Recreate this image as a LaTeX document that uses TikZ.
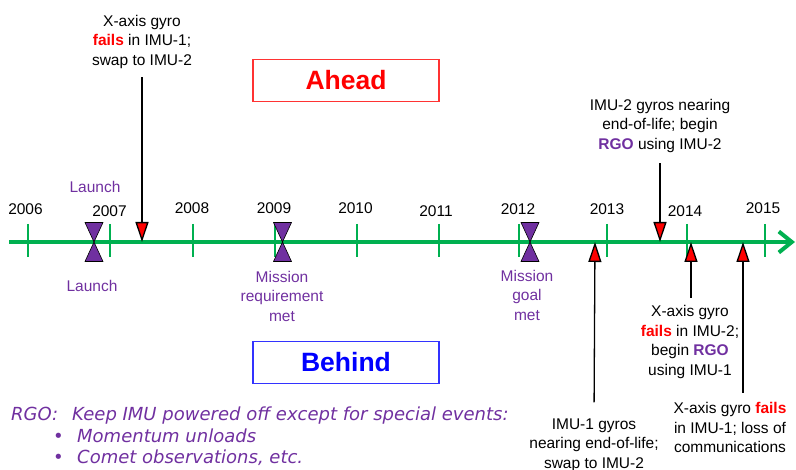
\documentclass[tikz,border=0pt]{standalone}
\usepackage{fontspec}
\setmainfont{Liberation Sans}
\newfontfamily\handfont{DejaVu Sans}
\usetikzlibrary{arrows.meta}
\definecolor{msgreen}{RGB}{0,176,80}
\definecolor{mspurple}{RGB}{112,48,160}
\newcommand{\failword}{\textcolor{red}{\textbf{fails}}}
\newcommand{\rgoword}{\textcolor{mspurple}{\textbf{RGO}}}

\begin{document}
\begin{tikzpicture}[x=1pt,y=-1pt,
  yearlbl/.style={font=\fontsize{15.5}{19}\selectfont, inner sep=0pt},
  yeartick/.style={msgreen, line width=2.6pt},
  evlbl/.style={align=center, font=\fontsize{15.5}{19.5}\selectfont, inner sep=0pt},
  mslbl/.style={evlbl, text=mspurple},
  event/.style={line width=1.3pt, -{Triangle[length=20pt,width=13pt,fill=red]}},
  hourglass/.style={fill=mspurple, draw=black, line width=0.6pt},
  statusbox/.style={draw=#1!80, text=#1, line width=1.2pt, minimum width=186pt, minimum height=42pt,
    font=\bfseries\fontsize{26.5}{30}\selectfont}]
  \useasboundingbox (0,0) rectangle (796,470);

  % time axis
  \coordinate (start) at (9,242);
  \coordinate (end) at (795,242);
  \draw[msgreen, line width=4pt, -{Straight Barb[length=13pt,width=21pt]}] (start) -- (end);

  % years and ticks
  \foreach \yr/\x/\lx/\ly in {2006/28/25.5/209, 2007/110/109.5/211, 2008/193/192/208.5,
      2009/275/274/208.5, 2010/357/355.5/208.5, 2011/439/436/211, 2012/519/518/209,
      2013/607/607/209, 2014/687/685/211, 2015/765/763/208.5}
  {
    \draw[yeartick] (\x,224) -- (\x,257);
    \node[yearlbl] (y\yr) at (\lx,\ly) {\yr};
  }

  % milestones
  \foreach \x in {94,282.5,530}
  {
    \filldraw[hourglass] ({\x-9},222.5) -- ({\x+9},222.5) -- (\x,242) -- cycle;
    \filldraw[hourglass] ({\x-9},261.5) -- ({\x+9},261.5) -- (\x,242) -- cycle;
  }
  \node[mslbl] (launchup) at (95,187) {Launch};
  \node[mslbl] (launchdn) at (92,286) {Launch};
  \node[mslbl] (missreq) at (282,296) {Mission\\requirement\\met};
  \node[mslbl] (missgoal) at (527,295) {Mission\\goal\\met};

  % ahead / behind
  \node[statusbox=red] (ahead) at (346,80.5) {Ahead};
  \node[statusbox=blue] (behind) at (346,362.5) {Behind};

  % gyro events
  \coordinate (ev1) at (142,242);
  \coordinate (ev2) at (660,242);
  \coordinate (ev3) at (595,242);
  \coordinate (ev4) at (691,242);
  \coordinate (ev5) at (743,242);

  \node[evlbl] (fail1) at (142,41.5) {X-axis gyro\\\failword{} in IMU-1;\\swap to IMU-2};
  \node[evlbl] (rgo2) at (660,125.5) {IMU-2 gyros nearing\\end-of-life; begin\\\rgoword{} using IMU-2};
  \node[evlbl] (swap) at (594,445) {IMU-1 gyros\\nearing end-of-life;\\swap to IMU-2};
  \node[evlbl] (fail2) at (690,342) {X-axis gyro\\\failword{} in IMU-2;\\begin \rgoword\\using IMU-1};
  \node[evlbl] (loss) at (730,427.5) {X-axis gyro \failword\\in IMU-1; loss of\\communications};

  \draw[event, shorten <=9pt] (fail1.south) -- (ev1);
  \draw[event, shorten <=11pt] (rgo2.south) -- (ev2);
  \draw[event, shorten <=16pt] (swap.north) -- (ev3);
  \draw[event, shorten <=7.5pt] (fail2.north -| ev4) -- (ev4);
  \draw[event, shorten <=9.5pt] (ev5 |- loss.north) -- (ev5);

  % RGO note
  \node[anchor=north west, align=left, inner sep=0pt, text=mspurple,
    font=\handfont\itshape\fontsize{18}{21.5}\selectfont] (rgonote) at (11,407)
    {\makebox[61pt][l]{RGO:}Keep IMU powered off except for special events:\\
     \hspace*{42pt}\makebox[24pt][l]{•}Momentum unloads\\
     \hspace*{42pt}\makebox[24pt][l]{•}Comet observations, etc.};
\end{tikzpicture}
\end{document}
